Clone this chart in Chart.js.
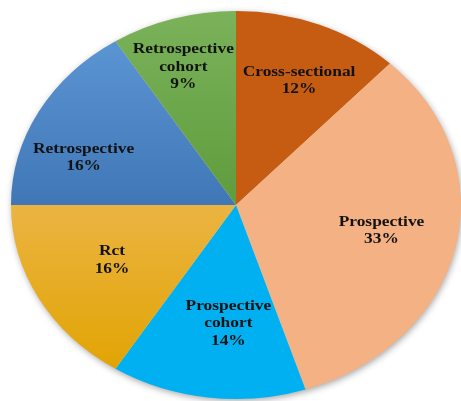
<!DOCTYPE html>
<html>
<head>
<meta charset="utf-8">
<title>Study designs</title>
<script src="https://cdn.jsdelivr.net/npm/chart.js@4.4.1/dist/chart.umd.min.js"></script>
<style>
  html, body { margin: 0; padding: 0; background: #ffffff; }
  #wrap { width: 461px; height: 401px; }
</style>
</head>
<body>
<div id="wrap"><canvas id="pie" width="461" height="401"></canvas></div>
<script>
// Study design categories, clockwise from 12 o'clock
const categories = ['Cross-sectional', 'Prospective', 'Prospective cohort', 'Rct', 'Retrospective', 'Retrospective cohort'];
// Share of studies (%)
const shares = [12, 33, 14, 16, 16, 9];
// How each category name wraps inside its slice
const labelLines = [
  ['Cross-sectional'],
  ['Prospective'],
  ['Prospective', 'cohort'],
  ['Rct'],
  ['Retrospective'],
  ['Retrospective', 'cohort']
];

// Label placement inside each slice: fraction of radius and angular nudge (deg)
const labelRadius = [0.70, 0.66, 0.61, 0.62, 0.72, 0.75];
const labelNudge = [2, -1, -4, 1.5, -9, -2];

// Horizontal stretch that turns the pie into an ellipse
const STRETCH = 225 / 194;

// Fill colours: flat or top-to-bottom gradients
const fills = [
  { flat: '#C65B12' },
  { flat: '#F4B183' },
  { flat: '#00B0F0' },
  { stops: [[0.50, '#EBB442'], [0.95, '#E1A300']] },
  { stops: [[0.10, '#5A93D2'], [0.55, '#3D73B3']] },
  { stops: [[0.00, '#7BB25A'], [0.55, '#5C9A3A']] }
];

function sliceColour(ctx) {
  const f = fills[ctx.dataIndex];
  if (f.flat) return f.flat;
  const area = ctx.chart.chartArea;
  if (!area) return f.stops[0][1];
  const g = ctx.chart.ctx.createLinearGradient(0, area.top, 0, area.bottom);
  f.stops.forEach(s => g.addColorStop(s[0], s[1]));
  return g;
}

// Stretches the dataset drawing horizontally, casts a soft shadow under the
// whole pie and writes the category / percentage labels inside the slices.
const ellipsePie = {
  id: 'ellipsePie',
  beforeDatasetsDraw(chart) {
    const ctx = chart.ctx;
    const arc = chart.getDatasetMeta(0).data[0];
    if (!arc) return;
    const cx = arc.x, cy = arc.y, r = arc.outerRadius;
    ctx.save();
    ctx.translate(cx, cy);
    ctx.scale(STRETCH, 1);
    ctx.translate(-cx, -cy);
    // shadow disc
    ctx.save();
    ctx.shadowColor = 'rgba(0,0,0,0.38)';
    ctx.shadowBlur = 7;
    ctx.shadowOffsetX = 1;
    ctx.shadowOffsetY = 2;
    ctx.beginPath();
    ctx.arc(cx, cy, r - 0.5, 0, Math.PI * 2);
    ctx.fillStyle = '#d8d8d8';
    ctx.fill();
    ctx.restore();
  },
  afterDatasetsDraw(chart) {
    const ctx = chart.ctx;
    const meta = chart.getDatasetMeta(0);
    const data = chart.data.datasets[0].data;
    ctx.fillStyle = '#121212';
    ctx.font = 'bold 15px "Liberation Serif", "Times New Roman", serif';
    ctx.textAlign = 'center';
    ctx.textBaseline = 'middle';
    const lineH = 17.5;
    meta.data.forEach((el, i) => {
      const mid = (el.startAngle + el.endAngle) / 2 + labelNudge[i] * Math.PI / 180;
      const rr = el.outerRadius * labelRadius[i];
      const px = el.x + Math.cos(mid) * rr;
      const py = el.y + Math.sin(mid) * rr;
      const lines = labelLines[i].concat([data[i] + '%']);
      const y0 = py - (lines.length - 1) * lineH / 2;
      lines.forEach((t, k) => ctx.fillText(t, px, y0 + k * lineH));
    });
    ctx.restore();
  }
};

new Chart(document.getElementById('pie'), {
  type: 'pie',
  data: {
    labels: categories,
    datasets: [{
      data: shares,
      backgroundColor: sliceColour,
      borderWidth: 0,
      hoverOffset: 0,
      offset: 0,
      clip: false
    }]
  },
  options: {
    responsive: false,
    animation: false,
    devicePixelRatio: 1,
    layout: { padding: { top: 11, bottom: 2, left: 42, right: 31 } },
    plugins: {
      legend: { display: false },
      tooltip: { enabled: false }
    },
    events: []
  },
  plugins: [ellipsePie]
});
</script>
</body>
</html>
